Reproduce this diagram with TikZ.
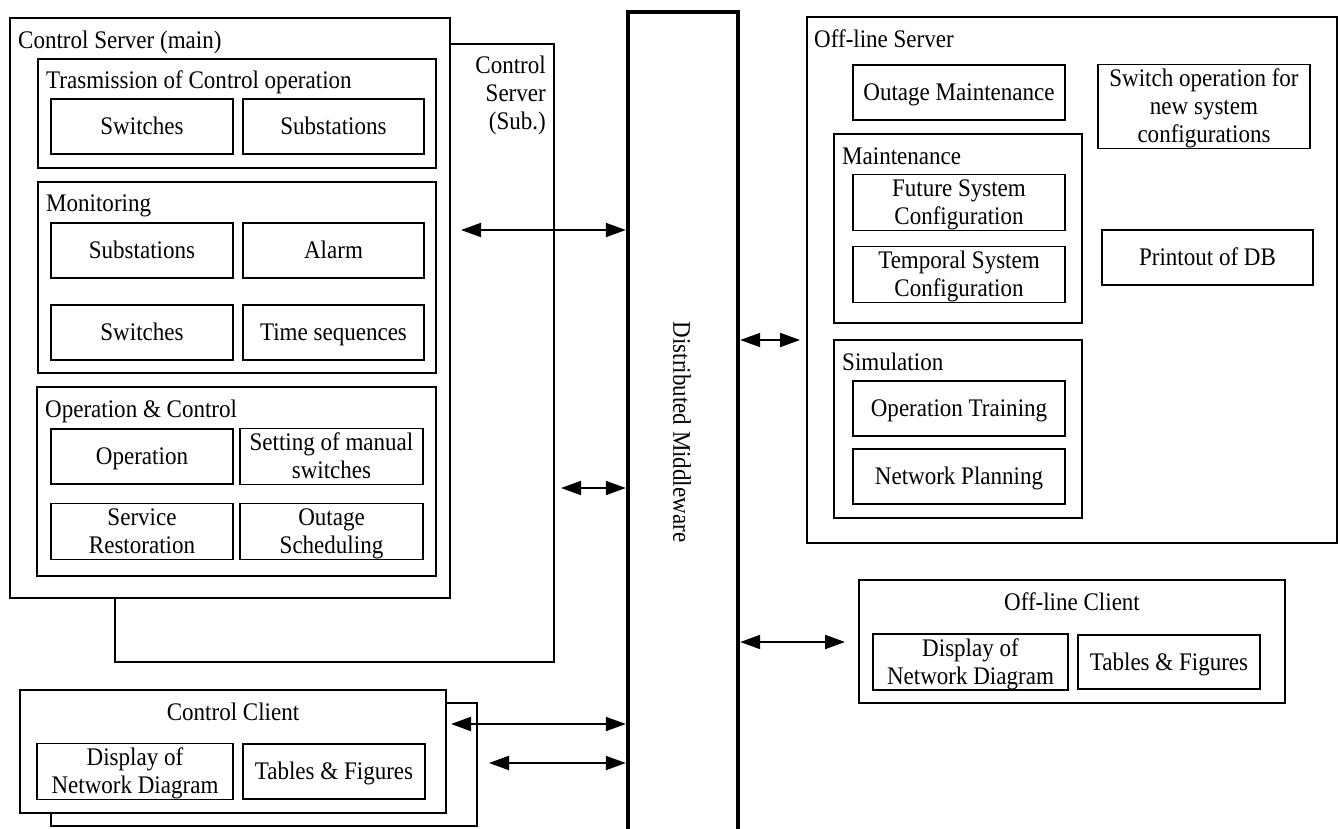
\documentclass[tikz,border=0pt]{standalone}
\usepackage{fontspec}
\setmainfont{Liberation Serif}[FakeStretch=0.91]
\usetikzlibrary{arrows.meta}
\newcommand\vstr{\rule[-6pt]{0pt}{28pt}}
\newcommand\bx[6]{\node[box,minimum width={(#4-#2)*1pt},minimum height={(#5-#3)*1pt}] (#1) at ({(#2+#4)/2},{(#3+#5)/2}) {\vstr#6\vstr};}
\begin{document}
\begin{tikzpicture}[x=1pt,y=-1pt,
  every node/.style={font=\fontsize{25.3}{28}\selectfont},
  box/.style={draw, line width=1.1pt, fill=white, inner sep=0pt, align=center},
  lbl/.style={anchor=base west, inner sep=0pt},
  link/.style={line width=2pt, {Triangle[length=20pt,width=14pt]}-{Triangle[length=20pt,width=14pt]}}]
\useasboundingbox (0,0) rectangle (1340,828);
% Control servers
\bx{sub}{115}{44}{554}{662}{}
\bx{main}{10}{18}{450}{598}{}
\node[lbl] (mainlbl) at (18,48) {Control Server (main)};
\node[anchor=east, align=right, inner sep=0pt] (sublbl) at (546,95) {Control\\Server\\(Sub.)};
\bx{trans}{38}{59}{436}{168}{}
\node[lbl] (translbl) at (46,88) {Trasmission of Control operation};
\bx{tsw}{51}{99}{233}{154}{Switches}
\bx{tsub}{243}{99}{424}{154}{Substations}
\bx{mon}{38}{182}{436}{373}{}
\node[lbl] (monlbl) at (46,211) {Monitoring};
\bx{msub}{51}{223}{233}{278}{Substations}
\bx{malarm}{243}{223}{424}{278}{Alarm}
\bx{msw}{51}{305}{233}{360}{Switches}
\bx{mts}{243}{305}{424}{360}{Time sequences}
\bx{opc}{37}{387}{436}{576}{}
\node[lbl] (opclbl) at (45,417) {Operation \& Control};
\bx{oop}{51}{429}{233}{484}{Operation}
\bx{oset}{240}{429}{423}{484}{Setting of manual\\switches}
\bx{osr}{51}{504}{233}{559}{Service\\Restoration}
\bx{oos}{240}{504}{423}{559}{Outage\\Scheduling}
% Control client
\bx{ccsh}{51}{703}{477}{826}{}
\bx{cc}{20}{690}{446}{813}{}
\node (cclbl) at (233,712) {Control Client};
\bx{ccdisp}{37}{744}{233}{799}{Display of\\Network Diagram}
\bx{cctab}{243}{744}{425}{799}{Tables \& Figures}
% Middleware
\node[minimum width=110pt, minimum height=818pt, inner sep=0pt] (mw) at (683,421) {};
\draw[line width=4pt] (mw.south west) -- (mw.north west) -- (mw.north east) -- (mw.south east);
\node[rotate=-90] (mwlbl) at (682,432) {Distributed Middleware};
% Off-line server
\bx{offs}{807}{17}{1337}{543}{}
\node[lbl] (offslbl) at (814,47) {Off-line Server};
\bx{om}{853}{65}{1065}{120}{Outage Maintenance}
\bx{swop}{1098}{65}{1310}{148}{Switch operation for\\new system\\configurations}
\bx{maint}{834}{134}{1082}{323}{}
\node[lbl] (maintlbl) at (842,164) {Maintenance};
\bx{fut}{853}{175}{1065}{230}{Future System\\Configuration}
\bx{temp}{853}{247}{1065}{302}{Temporal System\\Configuration}
\bx{print}{1102}{230}{1313}{285}{Printout of DB}
\bx{sim}{834}{340}{1082}{518}{}
\node[lbl] (simlbl) at (842,370) {Simulation};
\bx{optr}{853}{381}{1065}{436}{Operation Training}
\bx{netp}{853}{449}{1065}{504}{Network Planning}
% Off-line client
\bx{offc}{859}{580}{1285}{703}{}
\node (offclbl) at (1072,602) {Off-line Client};
\bx{ocdisp}{873}{635}{1068}{689}{Display of\\Network Diagram}
\bx{octab}{1078}{635}{1260}{689}{Tables \& Figures}
% connectors
\coordinate (a1) at (461,230);
\coordinate (a2) at (561,488);
\coordinate (a3) at (451,724);
\coordinate (a4) at (489,763);
\coordinate (b1) at (800,340);
\coordinate (b2) at (845,642);
\draw[link] (a1) -- ([xshift=-2pt]mw.west |- a1);
\draw[link] (a2) -- ([xshift=-2pt]mw.west |- a2);
\draw[link] (a3) -- ([xshift=-2pt]mw.west |- a3);
\draw[link] (a4) -- ([xshift=-2pt]mw.west |- a4);
\draw[link] ([xshift=2pt]mw.east |- b1) -- (b1);
\draw[link] ([xshift=2pt]mw.east |- b2) -- (b2);
\end{tikzpicture}
\end{document}
